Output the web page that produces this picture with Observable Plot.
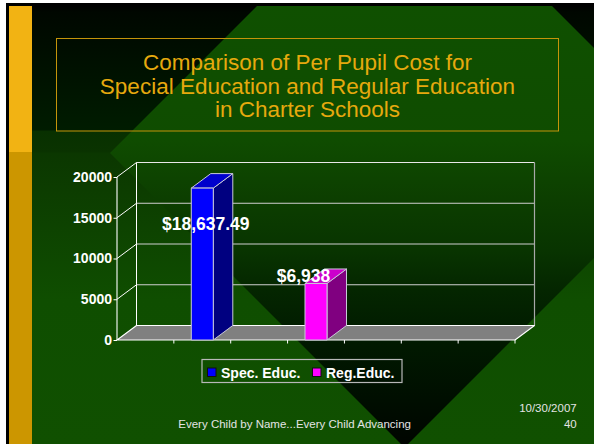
<!DOCTYPE html>
<html><head><meta charset="utf-8">
<script src="https://cdn.jsdelivr.net/npm/d3@7"></script>
<script src="https://cdn.jsdelivr.net/npm/@observablehq/plot@0.6"></script>
<style>
html,body{margin:0;padding:0;background:#fff;}
#slide{position:relative;width:594px;height:444px;overflow:hidden;font-family:"Liberation Sans",Arial,Helvetica,sans-serif;}
#slide svg{position:absolute;left:0;top:0;}
</style></head><body><div id="slide"></div>
<script>
// ---- data ----
const titleLines = ["Comparison of Per Pupil Cost for", "Special Education and Regular Education", "in Charter Schools"];
const slotCount = 7;                       // category slots along the floor
const seriesNames = ["Spec. Educ.", "Reg.Educ."];
const seriesSlots = [1, 3];                // category slot of each series
const seriesValues = [18637.49, 6938];
const valueLabels = ["$18,637.49", "$6,938"];
const yTicks = [0, 5000, 10000, 15000, 20000];
const footerText = "Every Child by Name...Every Child Advancing";
const dateText = "10/30/2007";
const pageText = "40";

// ---- styles ----
const FONT = '"Liberation Sans", Arial, Helvetica, sans-serif';
const faceColors = [
  {front: "#0000ff", side: "#000080", top: "#0000cc"},
  {front: "#ff00ff", side: "#800080", top: "#cc00cc"}
];
const labelOffsets = [[3, 36], [-13, -8]];
const DX = 19.5, DY = -14.5, HALF = 11;
const W = 594, H = 444;

const bars = seriesNames.map((name, i) => ({name, i, slot: seriesSlots[i], value: seriesValues[i], label: valueLabels[i]}));

const slide = document.getElementById("slide");

// ---- decorative slide background, title, legend, footer ----
const svg = d3.create("svg").attr("width", W).attr("height", H).attr("font-family", FONT);
const defs = svg.append("defs");
const g1 = defs.append("linearGradient").attr("id", "gbase").attr("gradientUnits", "userSpaceOnUse")
  .attr("x1", 0).attr("y1", 6).attr("x2", 0).attr("y2", 444);
[[6, "#000000"], [12, "#000700"], [130, "#001c00"], [131, "#083000"], [152, "#0a3300"], [153, "#0b3700"], [300, "#0f4e00"], [444, "#105000"]]
  .forEach(([y, c]) => g1.append("stop").attr("offset", (y - 6) / 438).attr("stop-color", c));
const g2 = defs.append("linearGradient").attr("id", "gdia").attr("gradientUnits", "userSpaceOnUse")
  .attr("x1", 0).attr("y1", 6).attr("x2", 0).attr("y2", 444);
[[6, "#0f5000"], [140, "#0f4c00"], [200, "#0c3e00"], [250, "#083400"], [290, "#042600"], [340, "#011a00"], [400, "#000e00"], [444, "#000500"]]
  .forEach(([y, c]) => g2.append("stop").attr("offset", (y - 6) / 438).attr("stop-color", c));
defs.append("clipPath").attr("id", "cp").append("rect").attr("x", 32).attr("y", 6).attr("width", W - 32).attr("height", H - 6);

svg.append("rect").attr("width", W).attr("height", H).attr("fill", "#fff");
svg.append("rect").attr("x", 6).attr("y", 3).attr("width", W - 6).attr("height", H - 3).attr("fill", "#000");
svg.append("rect").attr("x", 32).attr("y", 6).attr("width", W - 32).attr("height", H - 6).attr("fill", "url(#gbase)");
svg.append("polygon").attr("clip-path", "url(#cp)")
  .attr("points", "110,153 404.5,-141.5 699,153 404.5,447.5").attr("fill", "url(#gdia)");
svg.append("rect").attr("x", 9).attr("y", 6).attr("width", 23).attr("height", 146).attr("fill", "#f2b313");
svg.append("rect").attr("x", 9).attr("y", 152).attr("width", 23).attr("height", H - 152).attr("fill", "#cc9600");

// title
svg.append("rect").attr("x", 56.5).attr("y", 38.5).attr("width", 502).attr("height", 92.5)
  .attr("fill", "none").attr("stroke", "#c4940a").attr("stroke-width", 1);
const tt = svg.append("text").attr("text-anchor", "middle").attr("font-size", 22.5).attr("fill", "#e6a90e");
titleLines.forEach((t, i) => tt.append("tspan").attr("x", 307.5).attr("y", 70 + i * 23.6).text(t));

// legend
svg.append("rect").attr("x", 202).attr("y", 359.5).attr("width", 200).attr("height", 23)
  .attr("fill", "none").attr("stroke", "#b8b8b8").attr("stroke-width", 1.2);
const legendX = [207, 312];
seriesNames.forEach((name, i) => {
  svg.append("rect").attr("x", legendX[i] + 0.5).attr("y", 368).attr("width", 8.5).attr("height", 8.5)
    .attr("fill", faceColors[i].front).attr("stroke", "#111").attr("stroke-width", 1);
  svg.append("text").attr("x", legendX[i] + 14).attr("y", 377.5).attr("font-size", 14).attr("font-weight", "bold")
    .attr("fill", "#fff").text(name);
});

// footer
svg.append("text").attr("x", 178.3).attr("y", 427.5).attr("font-size", 11.5).attr("fill", "#e4e4e4").text(footerText);
svg.append("text").attr("x", 576.7).attr("y", 412.3).attr("font-size", 11.5).attr("fill", "#e4e4e4").attr("text-anchor", "end").text(dateText);
svg.append("text").attr("x", 576.7).attr("y", 427.5).attr("font-size", 11.5).attr("fill", "#e4e4e4").attr("text-anchor", "end").text(pageText);

slide.appendChild(svg.node());

// ---- chart (Observable Plot) ----
const frame3d = (index, scales) => {
  const x = scales.x, y = scales.y;
  const g = d3.create("svg:g").attr("fill", "none");
  const xa = x(0), xb = x(slotCount), y0 = y(0), yTop = y(yTicks[yTicks.length - 1]);
  const ln = (ax, ay, bx, by, c, w = 1) => g.append("line").attr("x1", ax).attr("y1", ay).attr("x2", bx).attr("y2", by)
    .attr("stroke", c).attr("stroke-width", w);
  for (const t of yTicks) {
    if (t === 0) continue;
    const yy = y(t);
    ln(xa + DX, yy + DY, xb + DX, yy + DY, t === yTicks[yTicks.length - 1] ? "#e8e8e8" : "#cfcfcf");
    ln(xa, yy, xa + DX, yy + DY, "#ffffff");
  }
  ln(xa + DX, y0 + DY, xa + DX, yTop + DY, "#ffffff");
  ln(xb + DX, y0 + DY, xb + DX, yTop + DY, "#a8a8a8", 1.2);
  g.append("polygon").attr("points", [[xa, y0], [xa + DX, y0 + DY], [xb + DX, y0 + DY], [xb, y0]].join(" "))
    .attr("fill", "#808080").attr("stroke", "#ffffff").attr("stroke-width", 1.1).attr("stroke-linejoin", "round");
  ln(xa, y0, xa, yTop, "#ffffff", 1.1);
  for (let k = 1; k <= slotCount; k++) ln(x(k), y0, x(k), y0 + 3.5, "#ffffff");
  return g.node();
};

const bars3d = (index, scales) => {
  const x = scales.x, y = scales.y;
  const g = d3.create("svg:g").attr("stroke", "#c8c8d8").attr("stroke-width", 1).attr("stroke-linejoin", "round");
  bars.forEach((d) => {
    const cx = x(d.slot + 0.5), yv = y(d.value), yb = y(0);
    const l = cx - HALF, r = cx + HALF;
    const c = faceColors[d.i];
    g.append("polygon").attr("points", [[r, yb], [r, yv], [r + DX, yv + DY], [r + DX, yb + DY]].join(" ")).attr("fill", c.side);
    g.append("polygon").attr("points", [[l, yv], [r, yv], [r + DX, yv + DY], [l + DX, yv + DY]].join(" ")).attr("fill", c.top);
    g.append("rect").attr("x", l).attr("y", yv).attr("width", r - l).attr("height", yb - yv).attr("fill", c.front);
  });
  return g.node();
};

const labelMarks = bars.map((d) => Plot.text([d], {
  x: (v) => v.slot + 0.5, y: "value", text: "label",
  dx: labelOffsets[d.i][0], dy: labelOffsets[d.i][1],
  fontSize: 17.5, fontWeight: "bold", fill: "#ffffff", textAnchor: "middle"
}));

const chart = Plot.plot({
  width: W, height: H,
  marginLeft: 117, marginRight: 79, marginTop: 177, marginBottom: 104,
  x: {domain: [0, slotCount], axis: null, label: null},
  y: {domain: [0, yTicks[yTicks.length - 1]], label: null},
  style: {background: "transparent", color: "#ffffff", fontFamily: FONT, overflow: "visible"},
  marks: [
    frame3d,
    Plot.axisY(yTicks, {tickFormat: d3.format("d"), tickSize: 3.5, tickPadding: 2, fontSize: 14, fontWeight: "bold", label: null}),
    bars3d,
    ...labelMarks
  ]
});
slide.appendChild(chart);
</script></body></html>
